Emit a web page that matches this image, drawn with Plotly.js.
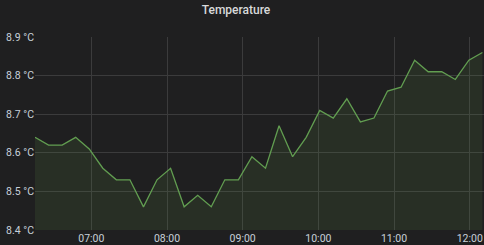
<!DOCTYPE html>
<html><head><meta charset="utf-8">
<script src="https://cdn.plot.ly/plotly-3.0.1.min.js"></script>
<style>html,body{margin:0;padding:0;background:#1f1f20;}#c{width:484px;height:245px;}</style>
</head><body><div id="c"></div>
<script>
const times = ["06:15:20","06:26:05","06:36:50","06:47:35","06:58:20","07:09:05","07:19:50","07:30:35","07:41:20","07:52:05","08:02:50","08:13:35","08:24:20","08:35:05","08:45:50","08:56:35","09:07:20","09:18:05","09:28:50","09:39:35","09:50:20","10:01:05","10:11:50","10:22:35","10:33:20","10:44:05","10:54:50","11:05:35","11:16:20","11:27:05","11:37:50","11:48:35","11:59:20","12:10:05"];
const temps = [8.64,8.62,8.62,8.64,8.61,8.56,8.53,8.53,8.46,8.53,8.56,8.46,8.49,8.46,8.53,8.53,8.59,8.56,8.67,8.59,8.64,8.71,8.69,8.74,8.68,8.69,8.76,8.77,8.84,8.81,8.81,8.79,8.84,8.86];
const tickVals = ["07:00","08:00","09:00","10:00","11:00","12:00"];
const yTicks = [8.4,8.5,8.6,8.7,8.8,8.9];
const day = "2020-01-01 ";
const x = times.map(t => day + t);
Plotly.newPlot('c', [{
  x: x, y: temps, type: 'scatter', mode: 'lines',
  line: {color: '#629e51', width: 1.3},
  fill: 'tozeroy', fillcolor: 'rgba(98,158,81,0.13)',
  hoverinfo: 'none'
}], {
  width: 484, height: 245,
  paper_bgcolor: '#1f1f20', plot_bgcolor: '#1f1f20',
  margin: {l: 35, r: 0, t: 37, b: 15},
  title: {text: 'Temperature', x: 0.4876, xanchor: 'center', y: 0.958, yanchor: 'middle',
          font: {family: 'Roboto, sans-serif', size: 12, weight: 500, color: '#d8d9da'}},
  showlegend: false,
  font: {family: 'Roboto, sans-serif', size: 10.5, color: '#c7d0d9'},
  xaxis: {type: 'date', range: [day + "06:15:20", day + "12:11:20"],
          tickvals: tickVals.map(t => day + t), ticktext: tickVals,
          showgrid: true, gridcolor: '#3b3b3c', gridwidth: 1, zeroline: false,
          showline: false, ticks: '', ticklen: 0},
  yaxis: {range: [8.4, 8.9], tickvals: yTicks, ticktext: yTicks.map(v => v.toFixed(1) + ' °C'),
          showgrid: true, gridcolor: '#3b3b3c', gridwidth: 1, zeroline: false,
          showline: false, ticks: '', ticklen: 0, automargin: false}
}, {staticPlot: true, displayModeBar: false});
</script></body></html>
